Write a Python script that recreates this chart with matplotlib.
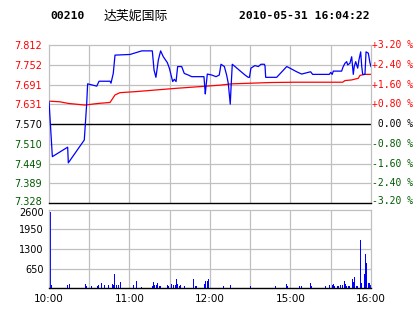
import matplotlib
matplotlib.use("Agg")
from matplotlib import pyplot as plt, transforms
import numpy as np

# intraday minutes since 10:00 (10:00-12:30, 14:30-16:00 -> 240 min)
price_min = [0, 2.5, 13.9, 14.4, 26.3, 28.1, 28.8, 35.6, 37.3, 45.5, 46.2, 47.9, 49.2, 60.4,
             69.1, 77.0, 78.3, 79.7, 81.5, 83.2, 85.2, 88.2, 89.7, 92.2, 93.4, 94.7, 95.9, 98.9,
             100.8, 103.8, 106.4, 115.5, 116.5, 117.0, 118.0, 121.3, 124.5, 126.9, 128.2, 130.7,
             132.4, 133.6, 135.1, 135.6, 136.6, 146.1, 148.5, 149.4, 150.5, 153.5, 156.0, 158.0,
             160.5, 161.0, 161.5, 169.7, 177.2, 179.6, 184.6, 188.3, 192.1, 195.0, 196.5, 208.9,
             210.0, 211.1, 211.9, 218.1, 219.3, 220.6, 221.9, 222.6, 224.3, 225.6, 226.8, 227.5,
             228.6, 230.1, 231.0, 232.3, 233.1, 233.8, 235.5, 236.3, 238.0, 239.2, 240]
price = [7.640, 7.470, 7.499, 7.451, 7.521, 7.633, 7.693, 7.686, 7.701, 7.701, 7.695, 7.725,
         7.781, 7.783, 7.794, 7.794, 7.735, 7.713, 7.766, 7.794, 7.776, 7.758, 7.741, 7.700,
         7.707, 7.700, 7.746, 7.746, 7.725, 7.720, 7.715, 7.715, 7.662, 7.684, 7.723, 7.720,
         7.715, 7.720, 7.753, 7.746, 7.720, 7.695, 7.631, 7.674, 7.753, 7.720, 7.713, 7.713,
         7.741, 7.749, 7.746, 7.753, 7.753, 7.748, 7.713, 7.713, 7.746, 7.741, 7.730, 7.723,
         7.727, 7.730, 7.722, 7.722, 7.728, 7.722, 7.732, 7.732, 7.746, 7.756, 7.761, 7.751,
         7.756, 7.776, 7.722, 7.746, 7.761, 7.741, 7.766, 7.791, 7.746, 7.722, 7.722, 7.791,
         7.787, 7.758, 7.746]

avg_min = [0, 8.2, 14.4, 26.8, 36.7, 45.5, 49.2, 52.9, 64.1, 93.9, 127.4, 136.2, 164.7,
           183.3, 218.9, 220.6, 225.6, 230.5, 231.8, 235.5, 240]
avg_price = [7.640, 7.638, 7.633, 7.628, 7.633, 7.636, 7.659, 7.666, 7.669, 7.679, 7.689,
             7.693, 7.697, 7.698, 7.698, 7.703, 7.705, 7.710, 7.719, 7.722, 7.722]

vol_min = [1, 2, 14, 15, 27, 28, 32, 36, 37, 39, 41, 44, 47, 48, 49, 50, 52, 53, 63, 65, 69,
           77, 78, 79, 80, 81, 82, 83, 88, 89, 91, 93, 94, 95, 96, 97, 98, 101, 108, 109, 110,
           116, 117, 118, 119, 130, 135, 150, 169, 177, 178, 187, 188, 195, 196, 206, 209, 211,
           212, 213, 215, 216, 217, 219, 220, 221, 222, 223, 224, 226, 227, 228, 229, 230, 232,
           233, 235, 236, 237, 238, 239, 240]
volume = [2520, 110, 100, 140, 140, 66, 66, 66, 110, 165, 100, 100, 130, 100, 470, 110, 110,
          200, 110, 240, 55, 66, 200, 100, 110, 165, 66, 66, 100, 66, 140, 110, 110, 300, 130,
          66, 110, 66, 300, 66, 66, 140, 230, 230, 300, 90, 120, 60, 77, 130, 66, 77, 77, 165,
          77, 77, 100, 110, 130, 66, 77, 77, 100, 110, 240, 140, 66, 77, 77, 300, 210, 360, 77,
          77, 1595, 165, 470, 1130, 845, 165, 165, 100]

prev_close = 7.570
price_ticks = [7.812, 7.752, 7.691, 7.631, 7.570, 7.510, 7.449, 7.389, 7.328]
pct_labels = ['+3.20 %', '+2.40 %', '+1.60 %', '+0.80 %', ' 0.00 %',
              '-0.80 %', '-1.60 %', '-2.40 %', '-3.20 %']
vol_ticks = [650, 1300, 1950, 2600]
time_pos = [0, 60, 120, 180, 240]
time_labels = ['10:00', '11:00', '12:00', '15:00', '16:00']

RED = '#ff0000'
GREEN = '#005a00'
GRID = '#c0c0c0'

fig = plt.figure(figsize=(4.14, 3.14), dpi=100)
fig.patch.set_facecolor('white')

ax = fig.add_axes([49/414, 111/314, 322/414, 158/314])
axv = fig.add_axes([49/414, 25.7/314, 322/414, 78.8/314])

# ---- price panel
ax.set_xlim(0, 240)
ax.set_ylim(7.328, 7.812)
for y in price_ticks[1:-1]:
    if y != prev_close:
        ax.axhline(y, color=GRID, lw=0.9, zorder=0)
for x in range(30, 240, 30):
    ax.axvline(x, color=GRID, lw=0.9, zorder=0)
ax.axhline(prev_close, color='black', lw=1.0, zorder=1)
ax.plot(avg_min, avg_price, color=RED, lw=0.9, zorder=2)
ax.plot(price_min, price, color='#0000ff', lw=0.9, zorder=3)

ax.set_yticks(price_ticks)
ax.set_yticklabels(['%.3f' % v for v in price_ticks], fontsize=7)
for lab, v in zip(ax.get_yticklabels(), price_ticks):
    if v > prev_close + 1e-6:
        lab.set_color(RED)
    elif v < prev_close - 1e-6:
        lab.set_color(GREEN)
    else:
        lab.set_color('black')
ax.tick_params(axis='y', length=0, pad=5)
ax.set_xticks([])
for s in ['top', 'left', 'right']:
    ax.spines[s].set_color(GRID)
    ax.spines[s].set_linewidth(0.9)
ax.spines['bottom'].set_color('black')
ax.spines['bottom'].set_linewidth(1.0)
# lift bottom price label a little
lab_last = ax.get_yticklabels()[-1]
lab_last.set_transform(lab_last.get_transform() +
                       transforms.ScaledTranslation(0, 2/100, fig.dpi_scale_trans))

tr = ax.get_yaxis_transform()
for v, t in zip(price_ticks, pct_labels):
    c = RED if t.startswith('+') else (GREEN if t.startswith('-') else 'black')
    off = 2/314 if v == price_ticks[-1] else 0
    ax.text(1.003, v, t, transform=tr + transforms.ScaledTranslation(0, off * 3.14, fig.dpi_scale_trans),
            ha='left', va='center', fontsize=7, family='DejaVu Sans Mono', color=c)

# ---- volume panel
axv.set_xlim(0, 240)
axv.set_ylim(0, 2600)
for y in vol_ticks[:-1]:
    axv.axhline(y, color=GRID, lw=0.9, zorder=0)
for x in range(30, 240, 30):
    axv.axvline(x, color=GRID, lw=0.9, zorder=0)
axv.bar(vol_min, volume, width=0.75, color='#0000ff', zorder=2)
axv.set_yticks(vol_ticks)
axv.set_yticklabels([str(v) for v in vol_ticks], fontsize=7)
axv.set_xticks(time_pos)
axv.set_xticklabels(time_labels, fontsize=7.5)
axv.tick_params(length=0, pad=4)
for s in ['top', 'left', 'right']:
    axv.spines[s].set_color(GRID)
    axv.spines[s].set_linewidth(0.9)
axv.spines['bottom'].set_color('black')
axv.spines['bottom'].set_linewidth(1.0)
# push top volume label down a little
lab_top = axv.get_yticklabels()[-1]
lab_top.set_transform(lab_top.get_transform() +
                      transforms.ScaledTranslation(0, -3/100, fig.dpi_scale_trans))

# ---- header
fig.text(50/414, 1 - 16/314, '00210', fontsize=8.2, fontweight='bold',
         family='DejaVu Sans Mono', va='center', ha='left')
fig.text(104/414, 1 - 16/314, '达芙妮国际', fontsize=9.3,
         family=['Noto Sans CJK SC', 'DejaVu Sans'], va='center', ha='left')
fig.text(370/414, 1 - 16/314, '2010-05-31 16:04:22', fontsize=8.2, fontweight='bold',
         family='DejaVu Sans Mono', va='center', ha='right')

fig.savefig('out.png', dpi=100)
